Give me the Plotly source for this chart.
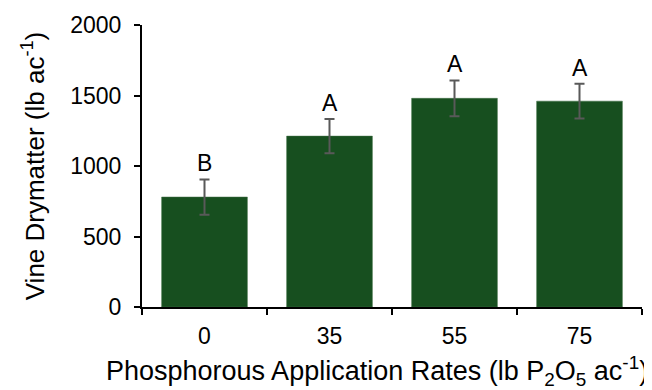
import plotly.graph_objects as go

categories = ["0", "35", "55", "75"]
drymatter = [780, 1212, 1480, 1460]
errors = [125, 122, 127, 124]
letters = ["B", "A", "A", "A"]
x_title = "Phosphorous Application Rates (lb P<sub>2</sub>O<sub>5</sub> ac<sup>-1</sup>)"
y_title = "Vine Drymatter (lb ac<sup>-1</sup>)"

FONT = "Liberation Sans, Arial"
xpos = list(range(len(categories)))
boundaries = [i - 0.5 for i in range(len(categories) + 1)]

fig = go.Figure()
fig.add_trace(go.Bar(
    x=xpos, y=drymatter,
    marker=dict(color="#174F1F", line=dict(color="#3f6e45", width=0.5)),
    error_y=dict(type="data", array=errors, visible=True, color="#595959", thickness=2, width=5),
    width=0.686,
))

for xi, v, e, t in zip(xpos, drymatter, errors, letters):
    fig.add_annotation(x=xi, y=v + e, text=t, showarrow=False, yanchor="bottom", yshift=1,
                       font=dict(size=23, color="#000000", family=FONT))

# x-axis title as a paper annotation (slightly left of plot centre, as in the reference)
fig.add_annotation(xref="paper", yref="paper", x=0.47, y=0, xanchor="center", yanchor="middle",
                   yshift=-64, text=x_title, showarrow=False,
                   font=dict(size=27, color="#000000", family=FONT))

fig.update_layout(
    width=652, height=390,
    margin=dict(l=134, r=18, t=17, b=91),
    paper_bgcolor="white", plot_bgcolor="white",
    font=dict(family=FONT, size=23, color="#000000"),
    showlegend=False,
)
fig.update_xaxes(
    range=[-0.5, len(categories) - 0.5],
    tickvals=xpos, ticktext=categories,
    showline=True, linecolor="#000000", linewidth=2,
    ticks="", ticklabelstandoff=7,
    minor=dict(tickvals=boundaries, ticks="outside", ticklen=6, tickwidth=2, tickcolor="#000000", showgrid=False),
    tickfont=dict(size=23),
    showgrid=False, zeroline=False, automargin=False,
)
fig.update_yaxes(
    range=[0, 2000], dtick=500,
    showline=True, linecolor="#000000", linewidth=2,
    ticks="outside", ticklen=6, tickwidth=2, tickcolor="#000000",
    ticklabelstandoff=8,
    title=dict(text=y_title, font=dict(size=26), standoff=18),
    tickfont=dict(size=23),
    showgrid=False, zeroline=False, automargin=False,
)

fig.write_html("out.html")
